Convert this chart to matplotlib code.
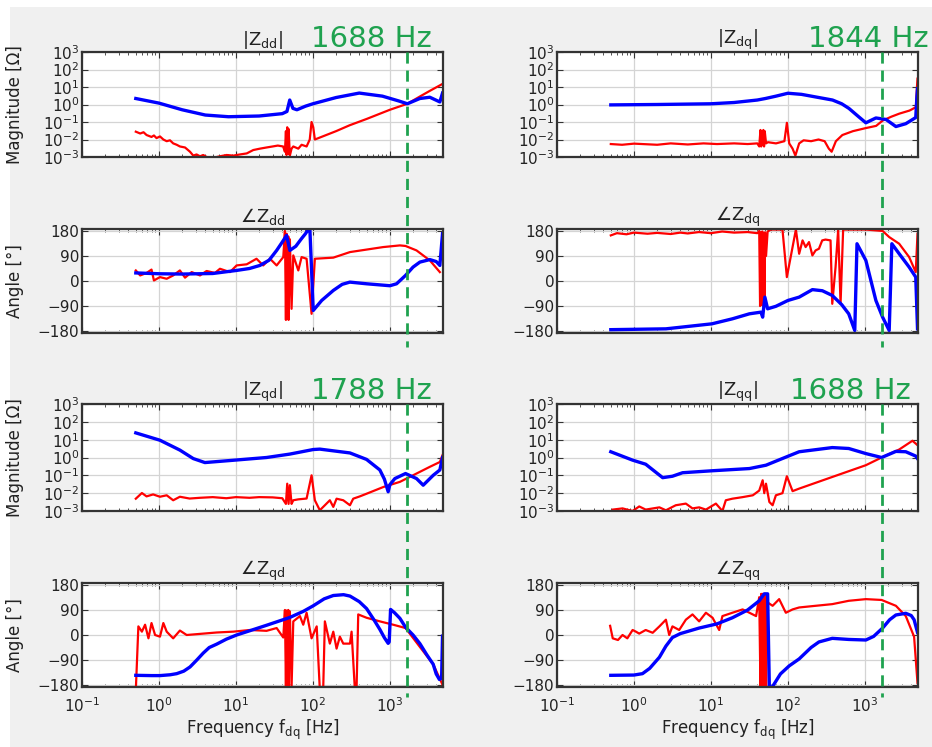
import matplotlib
matplotlib.use('Agg')
import matplotlib.pyplot as plt
from matplotlib.patches import Rectangle
from matplotlib.lines import Line2D
import matplotlib.transforms as mtrans
import matplotlib.ticker as mticker

# ---- data (frequency in Hz, magnitude in ohm, angle in deg) ----
# |Zdd|
zdd_mag_b_f = [0.5, 1.0, 2.0, 4.0, 8.0, 20, 40, 46, 50, 55, 62, 80, 100, 200, 400, 800, 1300, 1688, 2450, 3300, 4460, 4830]
zdd_mag_b = [2.2, 1.2, 0.5, 0.25, 0.2, 0.22, 0.3, 0.4, 1.8, 0.6, 0.5, 0.8, 1.1, 2.5, 4.5, 3.0, 1.6, 1.1, 2.2, 2.6, 1.4, 4.5]
zdd_mag_r_f = [0.5, 0.57, 0.63, 0.69, 0.8, 0.86, 0.93, 1.03, 1.14, 1.26, 1.39, 1.53, 1.7, 1.87, 2.18, 2.53, 2.79,
               3.08, 3.41, 3.76, 4.16, 5.08, 6.2, 7.57, 9.23, 11.3, 13.8, 16.8, 20.5, 25, 30, 35, 41, 43.3, 44.6,
               45.5, 46.4, 47.9, 48.3, 50.2, 52.8, 55.6, 64.6, 71.3, 82.8, 91, 96, 101, 106, 200, 300, 500, 1000,
               1688, 2500, 3300, 4830]
zdd_mag_r = [0.028, 0.022, 0.026, 0.018, 0.014, 0.017, 0.012, 0.015, 0.010, 0.008, 0.009, 0.006, 0.005, 0.004,
             0.0035, 0.002, 0.0012, 0.0014, 0.0011, 0.0013, 0.0010, 0.0009, 0.0011, 0.0013, 0.0012, 0.0014, 0.0016,
             0.0025, 0.003, 0.0035, 0.004, 0.0045, 0.004, 0.002, 0.03, 0.0013, 0.05, 0.0015, 0.04, 0.0012, 0.003,
             0.004, 0.003, 0.005, 0.004, 0.01, 0.1, 0.05, 0.01, 0.03, 0.065, 0.15, 0.5, 1.1, 3.0, 6.0, 15.0]

# |Zdq|
zdq_mag_b_f = [0.5, 2, 10, 20, 40, 51, 70, 100, 150, 380, 500, 620, 830, 1030, 1390, 1880, 2530, 3400, 4580,
               4750, 4830]
zdq_mag_b = [0.95, 1.0, 1.1, 1.3, 1.8, 2.2, 3.0, 4.4, 3.8, 1.8, 1.1, 0.6, 0.2, 0.09, 0.17, 0.14, 0.055, 0.08,
             0.18, 3.0, 8.0]
zdq_mag_r_f = [0.5, 0.7, 1, 2, 3, 5, 8, 12, 20, 30, 40, 42.4, 44, 45, 46, 47, 48, 49, 50, 52, 55, 70, 90, 97, 104,
               115, 125, 140, 160, 200, 250, 300, 340, 370, 420, 510, 700, 1030, 1400, 1700, 2200, 2800, 3800,
               4600, 4750, 4830]
zdq_mag_r = [0.0055, 0.005, 0.0058, 0.005, 0.006, 0.0052, 0.006, 0.0055, 0.006, 0.0055, 0.006, 0.004, 0.035,
             0.004, 0.03, 0.005, 0.035, 0.004, 0.03, 0.006, 0.007, 0.006, 0.008, 0.09, 0.006, 0.003, 0.0012, 0.006,
             0.009, 0.008, 0.01, 0.008, 0.003, 0.002, 0.008, 0.018, 0.03, 0.045, 0.06, 0.12, 0.2, 0.3, 0.45, 0.7,
             10.0, 30.0]

# angle Zdd
zdd_ang_b_f = [0.5, 1.03, 2, 5, 10.2, 15, 20.5, 27, 33.8, 40, 45.5, 50.2, 60, 70, 80, 86.9, 91.4, 101, 130, 184,
               240, 302, 498, 1000, 1222, 1597, 2000, 2454, 3305, 4000, 4460, 4830]
zdd_ang_b = [29, 26, 25, 27, 38, 45, 56, 75, 110, 140, 164, 110, 125, 150, 170, 185, 185, -106, -70, -34, -12, -4,
             -10, -17, -10, 20, 50, 68, 77, 70, 56, 170]
zdd_ang_r_f = [0.5, 0.57, 0.69, 0.8, 0.86, 1.03, 1.26, 1.53, 1.87, 2.18, 2.66, 3.41, 4.16, 5.34, 6.2, 8.36, 10.2,
               13.8, 18.5, 22.6, 27.7, 33.8, 41.2, 43.3, 44.6, 45.5, 46.4, 47.9, 48.3, 50.2, 52.8, 55.6, 64.6,
               71.3, 82.8, 96.1, 106, 184, 303, 498, 819, 1349, 1597, 2218, 3305, 4460]
zdd_ang_r = [38, 20, 29, 41, 2, 14, 8, 20, 38, 12, 32, 20, 36, 29, 44, 32, 56, 60, 80, 56, 80, 56, 86, 180, -140,
             170, -130, 160, -140, 150, -100, 92, 38, 86, 80, -118, 80, 84, 104, 113, 122, 128, 126, 110, 74, 32]

# angle Zdq
zdq_ang_b_f = [0.5, 2.6, 10.3, 19, 31.6, 44.6, 47, 50.2, 54.5, 69.8, 100, 140, 208, 280, 377, 500, 617, 739, 790,
               1030, 1390, 1700, 2070, 2240, 2790, 3760, 4580, 4830]
zdq_ang_b = [-175, -172, -154, -136, -118, -112, -130, -58, -100, -91, -70, -58, -31, -35, -52, -85, -118, -178,
             134, 74, -70, -130, -178, 134, 98, 50, 14, -172]
zdq_ang_r_f = [0.5, 0.6, 0.8, 1, 1.5, 2, 3, 4, 5, 7, 10, 14, 20, 30, 40, 42.4, 43.5, 44.6, 45.5, 46.5, 47.5,
               48.5, 49.5, 50.5, 52, 54.5, 60, 85, 96.9, 127, 140, 155, 170, 188, 208, 229, 253, 279, 308, 358,
               377, 416, 450, 483, 522, 1030, 1700, 2070, 2790, 3760, 4580, 4830]
zdq_ang_r = [164, 172, 168, 174, 170, 173, 169, 174, 171, 176, 172, 178, 174, 176, 172, 180, -90, 175, -85, 178,
             -90, 170, -88, 175, 90, 178, 185, 185, 14, 185, 98, 146, 122, 140, 92, 110, 116, 146, 149, 146, -82,
             50, 185, -82, 185, 185, 180, 158, 134, 86, 32, 170]

# |Zqd|
zqd_mag_b_f = [0.5, 1.03, 1.87, 2.79, 3.95, 9.23, 25, 50, 101, 123, 303, 498, 741, 850, 950, 1000, 1161, 1597,
               2218, 2710, 3652, 4460, 4830]
zqd_mag_b = [24, 9.3, 2.6, 0.87, 0.52, 0.7, 1.0, 1.55, 2.8, 2.95, 1.8, 0.78, 0.2, 0.06, 0.012, 0.03, 0.066,
             0.126, 0.066, 0.028, 0.1, 0.2, 1.0]
zqd_mag_r_f = [0.5, 0.6, 0.69, 0.84, 1.03, 1.26, 1.53, 1.87, 2.5, 3.4, 5, 7.5, 10, 15, 20, 30, 40, 44.6, 46.4,
               48.3, 50.2, 52.8, 55.6, 64.6, 82.8, 96.1, 106, 123, 143, 166, 184, 203, 248, 303, 334, 407, 498,
               819, 1349, 2218, 3305, 4460, 4830]
zqd_mag_r = [0.0049, 0.0102, 0.0066, 0.0085, 0.0063, 0.0076, 0.004, 0.0063, 0.005, 0.0055, 0.006, 0.0052, 0.006,
             0.0055, 0.006, 0.0058, 0.0052, 0.0025, 0.034, 0.0025, 0.028, 0.0025, 0.004, 0.0045, 0.005, 0.1,
             0.004, 0.0011, 0.0021, 0.004, 0.0017, 0.0049, 0.004, 0.0021, 0.0049, 0.0066, 0.0093, 0.022, 0.043,
             0.126, 0.3, 0.56, 1.35]

# |Zqq|
zqq_mag_b_f = [0.5, 0.96, 1.42, 2.36, 3.16, 4.28, 10.3, 31.6, 51.9, 100, 140, 377, 617, 1030, 1650, 2530, 3400,
               4580, 4830]
zqq_mag_b = [2.1, 0.71, 0.42, 0.074, 0.089, 0.14, 0.18, 0.24, 0.37, 1.17, 2.1, 3.6, 3.2, 1.66, 1.0, 2.2, 2.1,
             1.2, 0.87]
zqq_mag_r_f = [0.53, 0.71, 0.96, 1.17, 1.42, 2.14, 2.6, 3.49, 4.72, 5.76, 7.03, 8.6, 11.6, 14.1, 15.6, 19, 25.8,
               35, 42.4, 47, 49.3, 51.9, 57.4, 63.3, 69.8, 85, 96.9, 115, 140, 377, 1030, 1650, 2790, 4150, 4830]
zqq_mag_r = [0.0012, 0.0014, 0.0010, 0.0018, 0.0012, 0.0016, 0.0011, 0.0021, 0.0026, 0.0014, 0.0016, 0.0012,
             0.0026, 0.0010, 0.004, 0.0049, 0.006, 0.0076, 0.014, 0.053, 0.01, 0.034, 0.0032, 0.0021, 0.0076,
             0.01, 0.089, 0.013, 0.018, 0.081, 0.37, 1.0, 2.8, 8.7, 4.9]

# angle Zqd
zqd_ang_b_f = [0.5, 0.8, 1.03, 1.4, 1.7, 2.1, 2.53, 3.1, 3.76, 4.5, 5.61, 7.5, 10.2, 15, 25, 50, 75, 101, 140,
               184, 250, 303, 400, 498, 620, 741, 850, 950, 980, 1021, 1150, 1349, 1597, 2000, 2454, 3000, 3652,
               4000, 4400, 4700, 4830]
zqd_ang_b = [-145, -146, -146, -143, -139, -130, -115, -90, -65, -45, -33, -15, 0, 15, 35, 63, 85, 105, 130, 142,
             145, 140, 120, 95, 55, 20, -10, -30, -25, 92, 80, 60, 28, 0, -31, -70, -105, -140, -160, -155, -4]
zqd_ang_r_f = [0.5, 0.54, 0.6, 0.66, 0.73, 0.8, 0.89, 1.03, 1.14, 1.26, 1.53, 1.87, 2.29, 3.41, 5.61, 9.23, 15.2,
               25, 33.8, 41.2, 43.3, 44.6, 45.5, 46.4, 47.9, 48.3, 50.2, 52.8, 55.6, 67.8, 74.9, 82.8, 96.1, 112,
               123, 136, 143, 166, 184, 203, 224, 248, 303, 318, 351, 369, 388, 498, 741, 1105, 1597, 2454, 3652,
               4830]
zqd_ang_r = [-200, 31, 12, 37, -12, 43, 0, -6, 43, 12, -12, 16, 0, 4, 9, 12, 18, 15, 25, -9, 90, -190, 88, -190,
             90, -190, 85, -190, 49, 68, 37, 80, -12, 31, -197, -197, 49, -31, 12, -49, -6, -31, -31, 12, -197,
             -197, 74, 62, 49, 37, 25, -43, -105, -179]

# angle Zqq
zqq_ang_b_f = [0.5, 1.0, 1.29, 1.6, 2.14, 2.6, 3.16, 4, 7.03, 12, 19, 30, 42.4, 49.3, 54.5, 57.4, 63.3, 80, 104,
               140, 200, 253, 377, 617, 1030, 1300, 1700, 2100, 2530, 3400, 4000, 4360, 4830]
zqq_ang_b = [-145, -144, -139, -120, -80, -40, -9, 5, 25, 40, 62, 90, 123, 148, 148, -190, -185, -140, -111, -86,
             -45, -25, -12, -16, -18, -5, 25, 55, 72, 78, 70, 55, 9]
zqq_ang_r_f = [0.49, 0.53, 0.62, 0.71, 0.82, 0.96, 1.06, 1.17, 1.42, 1.75, 2.14, 2.6, 2.87, 3.16, 3.87, 4.72,
               5.76, 7.03, 8.6, 10.5, 12.8, 14.1, 19, 25.8, 31.6, 38.6, 42.4, 44, 45, 46, 47, 48, 49, 50, 51, 52,
               54.5, 63.3, 77, 94, 115, 140, 229, 377, 617, 1030, 1650, 2530, 3400, 4360, 4830]
zqq_ang_r = [33, -12, -18, 0, -12, 18, 12, 5, 18, 8, 31, 55, 0, 31, 18, 55, 74, 49, 80, 62, 18, 68, 80, 92, 80,
             68, 136, -185, 148, -185, 148, -185, 148, -185, 148, -185, 117, 105, 129, 80, 92, 99, 105, 111, 123,
             129, 126, 105, 68, -6, -173]

mag_titles = [r'$|\mathrm{Z}_{\mathrm{dd}}|$', r'$|\mathrm{Z}_{\mathrm{dq}}|$',
              r'$|\mathrm{Z}_{\mathrm{qd}}|$', r'$|\mathrm{Z}_{\mathrm{qq}}|$']
ang_titles = [r'$\angle\mathrm{Z}_{\mathrm{dd}}$', r'$\angle\mathrm{Z}_{\mathrm{dq}}$',
              r'$\angle\mathrm{Z}_{\mathrm{qd}}$', r'$\angle\mathrm{Z}_{\mathrm{qq}}$']
cross_labels = ['1688 Hz', '1844 Hz', '1788 Hz', '1688 Hz']
cross_freqs = [1650, 1670, 1650, 1670]
label_x = [0.97, 1.03, 0.97, 0.98]

mag_data = [(zdd_mag_b_f, zdd_mag_b, zdd_mag_r_f, zdd_mag_r),
            (zdq_mag_b_f, zdq_mag_b, zdq_mag_r_f, zdq_mag_r),
            (zqd_mag_b_f, zqd_mag_b, zqd_mag_r_f, zqd_mag_r),
            (zqq_mag_b_f, zqq_mag_b, zqq_mag_r_f, zqq_mag_r)]
ang_data = [(zdd_ang_b_f, zdd_ang_b, zdd_ang_r_f, zdd_ang_r),
            (zdq_ang_b_f, zdq_ang_b, zdq_ang_r_f, zdq_ang_r),
            (zqd_ang_b_f, zqd_ang_b, zqd_ang_r_f, zqd_ang_r),
            (zqq_ang_b_f, zqq_ang_b, zqq_ang_r_f, zqq_ang_r)]

# ---- figure ----
W, H = 932, 747
fig = plt.figure(figsize=(W / 100, H / 100), dpi=100, facecolor='white')
fig.add_artist(Rectangle((10 / W, 0), 1, 1 - 7 / H, transform=fig.transFigure,
                         facecolor='#f0f0f0', edgecolor='none', zorder=-10))

GREEN = '#1fa24f'
col_x = [82, 557]
row_y = [(52, 157), (229, 333), (404, 511), (583, 687)]


def px_axes(x0, top, bot):
    return fig.add_axes([x0 / W, (H - bot) / H, 361 / W, (bot - top) / H])


def style(ax, bottom_labels):
    ax.set_facecolor('white')
    ax.set_xscale('log')
    ax.set_xlim(0.1, 4900)
    ax.xaxis.set_major_locator(mticker.LogLocator(base=10, numticks=10))
    ax.xaxis.set_minor_locator(mticker.LogLocator(base=10, subs=range(2, 10), numticks=20))
    ax.xaxis.set_minor_formatter(mticker.NullFormatter())
    ax.grid(True, which='major', color='#d4d4d4', lw=0.9)
    ax.tick_params(which='both', direction='in', top=True, right=True, color='#333333',
                   labelsize=11, labelcolor='#222222', pad=2)
    ax.tick_params(axis='x', pad=7)
    ax.tick_params(which='major', length=4)
    ax.tick_params(which='minor', length=2)
    for s in ax.spines.values():
        s.set_color('#333333')
        s.set_linewidth(1.6)
    if not bottom_labels:
        ax.tick_params(axis='x', labelbottom=False)


for k in range(4):
    col = k % 2
    pair = k // 2
    x0 = col_x[col]
    mt, mb = row_y[2 * pair]
    at, ab = row_y[2 * pair + 1]

    axm = px_axes(x0, mt, mb)
    style(axm, False)
    bf, bv, rf, rv = mag_data[k]
    axm.plot(rf, rv, color='#ff0000', lw=1.6)
    axm.plot(bf, bv, color='#0000ff', lw=2.4)
    axm.set_yscale('log')
    axm.set_ylim(1e-3, 1e3)
    axm.yaxis.set_major_locator(mticker.LogLocator(base=10, numticks=10))
    axm.yaxis.set_minor_locator(mticker.NullLocator())
    axm.set_title(mag_titles[k], fontsize=13, color='#222222', pad=5)
    axm.text(label_x[k], 1.05, cross_labels[k], transform=axm.transAxes,
             ha='right', va='baseline', fontsize=21, color=GREEN)
    if col == 0:
        axm.set_ylabel('Magnitude [Ω]', fontsize=12, color='#222222')
        axm.yaxis.set_label_coords(-0.16, 0.5)

    axa = px_axes(x0, at, ab)
    style(axa, pair == 1)
    bf, bv, rf, rv = ang_data[k]
    axa.plot(rf, rv, color='#ff0000', lw=1.6)
    axa.plot(bf, bv, color='#0000ff', lw=2.4)
    axa.set_ylim(-187, 187)
    axa.set_yticks([-180, -90, 0, 90, 180])
    axa.set_title(ang_titles[k], fontsize=13, color='#222222', pad=5)
    if col == 0:
        axa.set_ylabel('Angle [°]', fontsize=12, color='#222222')
        axa.yaxis.set_label_coords(-0.16, 0.5)
    if pair == 1:
        axa.set_xlabel(r'Frequency f$_{\mathrm{dq}}$ [Hz]', fontsize=12, color='#222222', labelpad=2)

    # green dashed marker line spanning the magnitude and angle axes of the pair
    tr = mtrans.blended_transform_factory(axm.transData, fig.transFigure)
    y_end = ab + (14 if pair == 0 else 10)
    fig.add_artist(Line2D([cross_freqs[k], cross_freqs[k]], [(H - mt) / H, (H - y_end) / H],
                          transform=tr, color=GREEN, lw=2, ls=(0, (4, 2.5)), zorder=5))

fig.savefig('out.png', dpi=100, facecolor=fig.get_facecolor())
